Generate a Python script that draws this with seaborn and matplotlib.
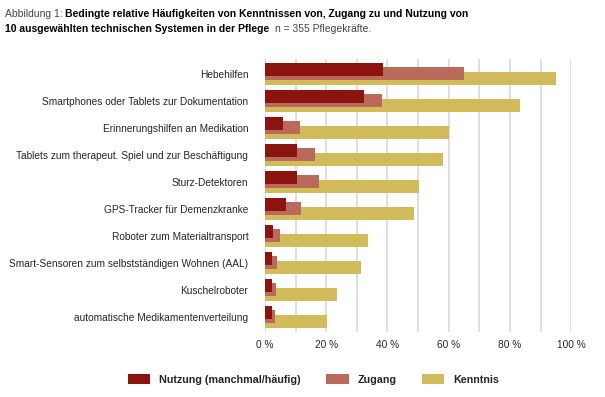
import numpy as np
import pandas as pd
import seaborn as sns
import matplotlib.pyplot as plt
from matplotlib.ticker import MultipleLocator

sns.set_theme(style="white")
plt.rcParams["font.family"] = ["Liberation Sans", "DejaVu Sans"]

# Daten
systeme = [
    "Hebehilfen",
    "Smartphones oder Tablets zur Dokumentation",
    "Erinnerungshilfen an Medikation",
    "Tablets zum therapeut. Spiel und zur Beschäftigung",
    "Sturz-Detektoren",
    "GPS-Tracker für Demenzkranke",
    "Roboter zum Materialtransport",
    "Smart-Sensoren zum selbstständigen Wohnen (AAL)",
    "Kuschelroboter",
    "automatische Medikamentenverteilung",
]
nutzung = [38.6, 32.4, 5.9, 10.5, 10.5, 6.9, 2.6, 2.3, 2.3, 2.3]
zugang = [65.0, 38.2, 11.4, 16.3, 17.6, 11.8, 4.9, 3.9, 3.6, 3.3]
kenntnis = [95.1, 83.3, 60.1, 58.2, 50.3, 48.7, 33.7, 31.4, 23.5, 20.3]

serien = [
    # name, werte, versatz, farbe  (Kenntnis zuerst = ganz unten)
    ("Kenntnis", kenntnis, 0.17, "#D2BB5A"),
    ("Zugang", zugang, -0.02, "#BA6A5A"),
    ("Nutzung (manchmal/häufig)", nutzung, -0.175, "#8B140F"),
]

fig = plt.figure(figsize=(6.05, 3.97), dpi=100)
renderer = fig.canvas.get_renderer()


def breite(txt, size, **kw):
    t = fig.text(0, 0, txt, fontsize=size, **kw)
    w = t.get_window_extent(renderer=renderer).width
    t.remove()
    return w


# Schriftgröße so wählen, dass die längste Beschriftung ~240 px breit ist
lab_size = 10 * 240 / breite(systeme[7], 10)

ax = fig.add_axes([0.438, 0.164, 0.506, 0.687])

idx = np.arange(len(systeme))
for name, werte, off, farbe in serien:
    df = pd.DataFrame({"wert": werte, "pos": idx + off})
    sns.barplot(data=df, x="wert", y="pos", orient="y", native_scale=True,
                width=0.48, color=farbe, saturation=1, linewidth=0,
                errorbar=None, label=name, ax=ax)

handles, labels = ax.get_legend_handles_labels()
if ax.get_legend() is not None:
    ax.get_legend().remove()

ax.set_xlim(0, 100)
ax.set_ylim(9.56, -0.56)
ax.set_yticks(idx, systeme, fontsize=lab_size)
ax.set_xticks(range(0, 101, 20), [f"{v} %" for v in range(0, 101, 20)],
              fontsize=lab_size)
ax.xaxis.set_minor_locator(MultipleLocator(10))
ax.grid(axis="x", which="both", color="#dcdcdc", linewidth=1.3)
ax.set_axisbelow(True)
ax.tick_params(axis="y", which="both", length=0, pad=12)
ax.tick_params(axis="x", which="both", length=0, pad=6)
ax.set_xlabel("")
ax.set_ylabel("")
for s in ax.spines.values():
    s.set_visible(False)

# Legende
order = [2, 1, 0]
fig.legend([handles[i] for i in order], [labels[i] for i in order],
           loc="center", bbox_to_anchor=(0.518, 0.045), ncol=3, frameon=False,
           handlelength=2.1, handleheight=1.1, columnspacing=2.4,
           prop={"weight": "bold", "size": lab_size * 1.05})

# Titel aus mehreren Stücken
zeile1 = "Bedingte relative Häufigkeiten von Kenntnissen von, Zugang zu und Nutzung von"
tsize = 10 * 465 / (breite("Abbildung 1: ", 10) + breite(zeile1, 10, weight="bold"))


def stueck(x, y, txt, **kw):
    t = fig.text(x, y, txt, fontsize=tsize, va="baseline", **kw)
    bb = t.get_window_extent(renderer=renderer)
    return x + bb.width / fig.bbox.width


y1 = 1 - 17 / 397
y2 = 1 - 32 / 397
x = stueck(0.008, y1, "Abbildung 1: ", color="#444444")
stueck(x, y1, zeile1, color="black", weight="bold")
x = stueck(0.008, y2, "10 ausgewählten technischen Systemen in der Pflege  ",
           color="black", weight="bold")
stueck(x, y2, "n = 355 Pflegekräfte.", color="#444444")

fig.savefig("out.png", dpi=100)
